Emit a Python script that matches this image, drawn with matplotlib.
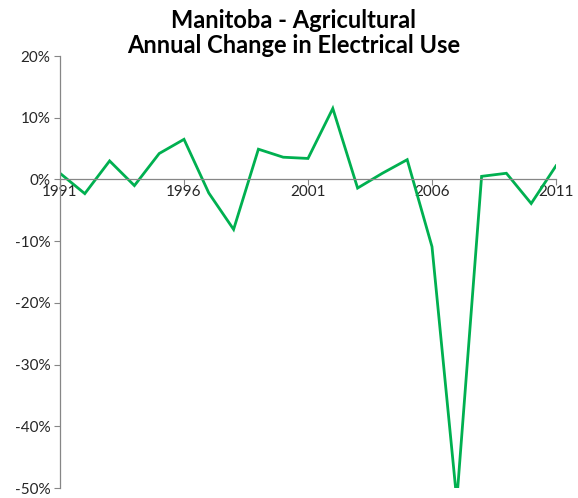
import matplotlib
matplotlib.use("Agg")
import matplotlib.pyplot as plt
from matplotlib.ticker import FuncFormatter, MultipleLocator

years = list(range(1991, 2012))
change = [1.0, -2.3, 3.0, -1.0, 4.2, 6.5, -2.2, -8.1, 4.9, 3.6, 3.4, 11.5,
          -1.4, 1.0, 3.2, -10.9, -52.0, 0.5, 1.0, -3.9, 2.2]
xticks = [1991, 1996, 2001, 2006, 2011]
title = "Manitoba - Agricultural\nAnnual Change in Electrical Use"

plt.rcParams['font.family'] = ['Lato', 'DejaVu Sans']

fig = plt.figure(figsize=(5.78, 4.98), dpi=100)
ax = fig.add_axes([60/578, 1-488/498, (556-60)/578, (488-56)/498])

ax.plot(years, change, color='#00B050', lw=2.0, solid_joinstyle='miter', clip_on=True)

ax.set_xlim(1991, 2011)
ax.set_ylim(-50, 20)
ax.yaxis.set_major_locator(MultipleLocator(10))
ax.yaxis.set_major_formatter(FuncFormatter(lambda v, p: f"{v:.0f}%"))
ax.set_xticks(xticks)
ax.set_xticklabels([str(x) for x in xticks])

gray = '#868686'
for s in ['top', 'right']:
    ax.spines[s].set_visible(False)
ax.spines['bottom'].set_position(('data', 0))
ax.spines['bottom'].set_color(gray)
ax.spines['left'].set_color(gray)
ax.spines['bottom'].set_linewidth(0.9)
ax.spines['left'].set_linewidth(0.9)
ax.tick_params(axis='y', direction='out', length=4, color=gray, labelsize=11, labelcolor='#262626', pad=3)
ax.tick_params(axis='x', direction='out', length=4, color=gray, labelsize=11, labelcolor='#262626', pad=0)

fig.text(0.508, 1-9/498, title, fontsize=17, fontweight='bold', ha='center', va='top',
         linespacing=1.12, multialignment='center')

fig.savefig('out.png', dpi=100)
